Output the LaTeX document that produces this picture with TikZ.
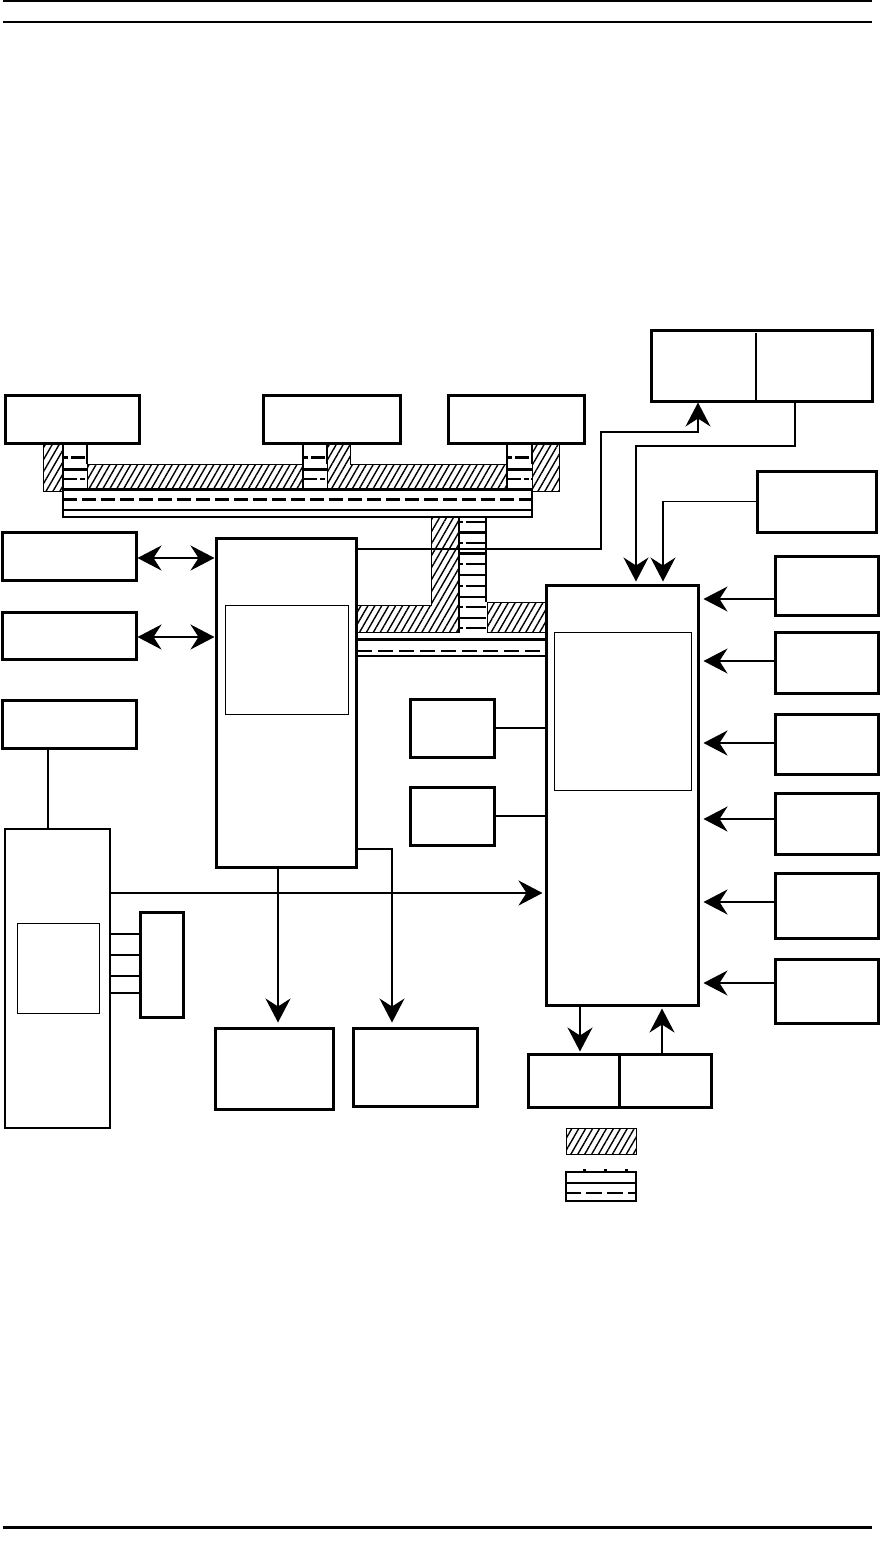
\documentclass[tikz,border=0pt]{standalone}
\usepackage{tikz}
\usetikzlibrary{arrows.meta,positioning,patterns.meta,calc}

\begin{document}
\begin{tikzpicture}[
  x=1pt, y=-1pt, >={Stealth[length=24pt,width=25pt,inset=8pt]},
  box/.style={draw, line width=3pt, inner sep=0pt},
  inbox/.style={draw, line width=1pt, inner sep=0pt},
  hatch/.style={draw, line width=1pt, pattern={Lines[angle=60,distance=6pt,line width=1.4pt]}},
  rail/.style={line width=3pt},
  raild/.style={line width=3pt, dash pattern=on 14pt off 5pt},
  wire/.style={line width=1.3pt},
  wireb/.style={line width=2.4pt},
]
\useasboundingbox (0,0) rectangle (881,1543);
% ---- page rules
\draw[line width=2pt] (3,1) -- (872,1);
\draw[line width=1.3pt] (3,22) -- (872,22);
\draw[line width=3pt] (3,1527) -- (872,1527);
% ---- boxes
\node[box, minimum width=221, minimum height=71] (tr) at (761.5,365.5) {};
\draw[wire] ([xshift=-5.5pt,yshift=-4pt]tr.north) -- ([xshift=-5.5pt]tr.south);
\node[box, minimum width=134, minimum height=48] (bx1) at (72,419) {};
\node[box, minimum width=137, minimum height=48] (bx2) at (331.5,419) {};
\node[box, minimum width=136, minimum height=48] (bx3) at (516,419) {};
\node[box, minimum width=119, minimum height=61] (clk) at (816.5,501.5) {};
\node[box, minimum width=134, minimum height=48] (la) at (69,556) {};
\node[box, minimum width=134, minimum height=47] (lb) at (69,635.5) {};
\node[box, minimum width=134, minimum height=48] (lc) at (69,724) {};
\node[box, minimum width=140, minimum height=329] (cpu) at (286,702.5) {};
\node[inbox, minimum width=123, minimum height=109] (cpuin) at (286.5,659.5) {};
\node[box, minimum width=152, minimum height=420] (main) at (622,795) {};
\node[inbox, minimum width=137, minimum height=158] (mainin) at (622.5,711) {};
\node[box, minimum width=84, minimum height=58] (f) at (452,728) {};
\node[box, minimum width=84, minimum height=58] (g) at (452,816) {};
\node[box, line width=2pt, minimum width=105, minimum height=299] (tall) at (57.5,978.5) {};
\node[inbox, minimum width=82, minimum height=90] (tallin) at (58,968) {};
\node[box, minimum width=43, minimum height=105] (sm) at (161.5,964.5) {};
\node[box, minimum width=118, minimum height=81] (d) at (274,1068.5) {};
\node[box, minimum width=124, minimum height=78] (e) at (415,1067) {};
\node[box, minimum width=183, minimum height=53] (bs) at (619.5,1080.5) {};
\draw[wireb] (bs.north) -- (bs.south);
% ---- hatched bus
\draw[hatch] (43,444) rectangle (63,491);
\draw[hatch] (87,464) rectangle (303,488);
\draw[hatch] (327,444) -- (350,444) -- (350,464) -- (507,464) -- (507,488) -- (327,488) -- cycle;
\draw[hatch] (532,444) rectangle (559,491);
\draw[hatch] (357,605) -- (431,605) -- (431,517) -- (459,517) -- (459,632) -- (357,632) -- cycle;
\draw[hatch] (487,602) rectangle (545,632);
% ---- striped bus
\foreach \xa/\xb in {63/87, 303/327, 507/532} {
  \draw[wire] (\xa,444) -- (\xa,489);
  \draw[wire] (\xb,444) -- (\xb,464);
  \draw[raild, dash pattern=on 5pt off 3pt on 14pt off 2pt] (\xa,457) -- (\xb,457);
  \draw[rail] (\xa,469) -- (\xb,469);
  \draw[line width=2pt, dash pattern=on 14pt off 3pt on 5pt off 2pt] (\xa,479) -- (\xb,479);
}
\draw[rail] (63,489) -- (532,489);
\draw[raild] (63,499) -- (532,499);
\draw[wireb] (63,510) -- (532,510);
\draw[wire] (63,489) -- (63,517) -- (532,517) -- (532,489);
\draw[wire] (459,517) -- (459,632);
\draw[wire] (486,517) -- (486,602);
\foreach \yy [count=\k] in {522,532.5,543,553.5,564,575,586,597,607,618,628} {
  \ifodd\k
    \draw[line width=2.4pt, dash pattern=on 4pt off 3pt on 20pt off 2pt] (459,\yy) -- (486,\yy);
  \else
    \draw[line width=2.4pt] (459,\yy) -- (486,\yy);
  \fi
}
\draw[rail] (357,639) -- (545,639);
\draw[line width=2pt, dash pattern=on 15pt off 6pt] (357,651) -- (545,651);
\draw[wire] (357,656) -- (545,656);
% ---- legend
\node[hatch, inner sep=0pt, minimum width=70, minimum height=26] (lgh) at (601,1141) {};
\node[inbox, line width=1.3pt, minimum width=70, minimum height=29] (lgs) at (601,1186.5) {};
\draw[wireb] ([yshift=3.5pt]lgs.west) -- ([yshift=3.5pt]lgs.east);
\draw[wireb, dash pattern=on 16pt off 5pt] ([yshift=-6.5pt]lgs.west) -- ([yshift=-6.5pt]lgs.east);
\draw[line width=2pt, dash pattern=on 3pt off 18pt, dash phase=-18pt] ([yshift=1pt]lgs.north west) -- ([yshift=1pt]lgs.north east);
% ---- connectors
\draw[<->, line width=2pt] ([yshift=-2pt]la.east) -- ([yshift=-2pt]la.east -| cpu.west);
\draw[<->, line width=2pt] ([yshift=-1.5pt]lb.east) -- ([yshift=-1.5pt]lb.east -| cpu.west);
\draw[wire] ([xshift=-9.5pt]tall.north) -- ([xshift=-9.5pt]tall.north |- lc.south);
\draw[->, wireb, shorten >=2pt] ([yshift=85.5pt]tall.east) -- ([yshift=85.5pt]tall.east -| main.west);
\foreach \dy/\w in {30.5/1.3, 9.5/2.6, -11.5/2.6, -28.5/1.3}
  \draw[line width=\w pt] ([yshift=\dy pt]sm.west) -- ([yshift=\dy pt]sm.west -| tall.east);
\draw[->, line width=2pt, shorten >=4pt] ([xshift=-8pt]cpu.south) -- ([xshift=-8pt]cpu.south |- d.north);
\draw[->, wire, shorten >=4pt] ([yshift=-146.5pt]cpu.east) -| ([xshift=-23pt]e.north);
\coordinate (j1) at (601,432);
\draw[->, wire] ([yshift=153.5pt]cpu.east) -| (j1) -| ([xshift=-63.5pt]tr.south);
\draw[->, line width=2pt, shorten >=2pt] ([xshift=33.5pt]tr.south) -- ++(0,43) -| ([xshift=14pt]main.north);
\draw[->, wire, shorten >=2pt] (clk.west) -| ([xshift=41pt]main.north);
\draw[wireb] (f.east) -- (f.east -| main.west);
\draw[wireb] (g.east) -- (g.east -| main.west);
\foreach \i/\yc/\h/\dy/\w in {1/585.5/59/-13.5/1.3, 2/662.5/61/1.5/1.3, 3/744/60/1/2.5,
    4/823.5/61/4.5/2.5, 5/905.5/65/3.5/2.5, 6/991/64/8/1.3} {
  \node[box, minimum width=103, minimum height=\h] (r\i) at (826.5,\yc) {};
  \draw[->, line width=\w pt, shorten >=4pt] ([yshift=\dy pt]r\i.west) -- ([yshift=\dy pt]r\i.west -| main.east);
}
\draw[->, line width=2pt, shorten >=1pt] ([xshift=-42pt]main.south) -- ([xshift=-42pt]main.south |- bs.north);
\draw[->, line width=2pt, shorten >=2pt] ([xshift=42.5pt]bs.north) -- ([xshift=42.5pt]bs.north |- main.south);
\end{tikzpicture}
\end{document}
